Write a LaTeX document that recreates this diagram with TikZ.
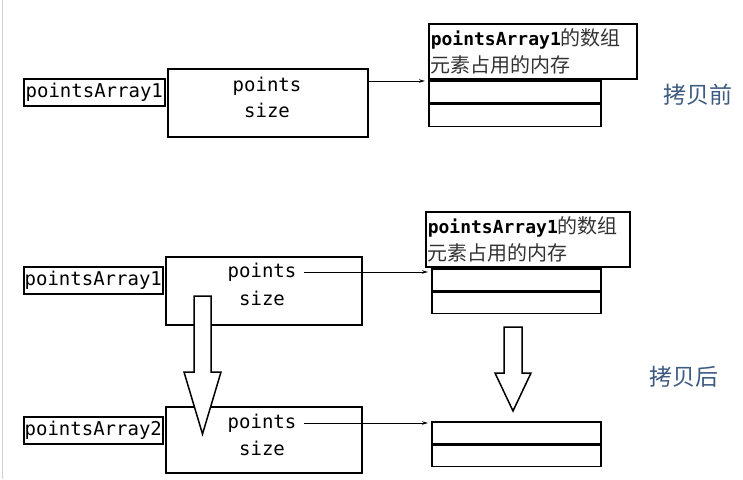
\documentclass[tikz,border=0pt]{standalone}
\usepackage{fontspec}
\usepackage{tikz}
\usetikzlibrary{arrows.meta}
\usetikzlibrary{positioning}
\setmonofont{DejaVu Sans Mono}
\newfontfamily\cjk{Noto Sans CJK SC}
\definecolor{notecolor}{HTML}{3D5A80}
\definecolor{cjkgray}{HTML}{333333}
\tikzset{
	namebox/.style={draw,line width=1.6pt,anchor=north west,inner sep=0pt,
		minimum height=27pt,font=\ttfamily\fontsize{19}{20}\selectfont},
	structbox/.style={draw,line width=1.6pt,anchor=north west,minimum width=196pt},
	fieldtext/.style={inner sep=1pt,font=\ttfamily\fontsize{19}{20}\selectfont},
	capbox/.style={draw,line width=1.6pt,anchor=north west,inner sep=2pt,
		minimum height=55pt,align=left,font=\fontsize{20}{27}\selectfont},
	arraybox/.style={draw,line width=1.6pt,anchor=north west,minimum width=170pt},
	ptr/.style={line width=1pt,-{Stealth[length=6pt,width=3.5pt]},shorten >=3pt},
	note/.style={text=notecolor,font=\cjk\fontsize{23}{23}\selectfont}
}
\begin{document}
\begin{tikzpicture}[x=1pt,y=-1pt]
		\useasboundingbox (0,0) rectangle (743,479);
		\draw[gray!35,line width=1pt] (2,0) -- (2,479);
		% before copy
		\node[namebox,minimum width=141pt] (v1) at (23,78) {pointsArray1};
		\node[structbox,minimum width=200pt,minimum height=68pt] (s1) at (167,68) {};
		\node[fieldtext] (p1) at (267,86) {points};
		\node[fieldtext] (z1) at (267,110) {size};
		\node[capbox,text width=204pt] (c1) at (428,23)
			{\ttfamily\bfseries\fontsize{18}{27}\selectfont pointsArray1\cjk\mdseries\color{cjkgray}\fontsize{20}{27}\selectfont 的数组\\
			 \cjk\color{cjkgray}元素占用的内存};
		\node[arraybox,minimum width=172pt,minimum height=22pt] (a1) at (428,80) {};
		\node[arraybox,minimum width=172pt,minimum height=22pt,anchor=north west] (b1) at (a1.south west) {};
		\draw[ptr] (s1.east |- 0,81) -- (a1.north west |- 0,81);
		\node[note] (n1) at (698,95) {拷贝前};
		% after copy
		\node[namebox,minimum width=139pt] (v2) at (23,266) {pointsArray1};
		\node[structbox,minimum height=68pt] (s2) at (165,256) {};
		\node[fieldtext] (p2) at (262,272) {points};
		\node[fieldtext] (z2) at (262,298) {size};
		\node[capbox,text width=200pt] (c2) at (425,211)
			{\ttfamily\bfseries\fontsize{18}{27}\selectfont pointsArray1\cjk\mdseries\color{cjkgray}\fontsize{20}{27}\selectfont 的数组\\
			 \cjk\color{cjkgray}元素占用的内存};
		\node[arraybox,minimum width=169pt,minimum height=22pt] (a2) at (431,268) {};
		\node[arraybox,minimum width=169pt,minimum height=21pt] (b2) at (a2.south west) {};
		\draw[ptr,shorten <=6pt] (p2.east) -- (p2.east -| a2.west);
		\node[namebox,minimum width=139pt] (v3) at (23,416) {pointsArray2};
		\node[structbox,minimum height=66pt] (s3) at (165,406) {};
		\node[fieldtext] (p3) at (262,423) {points};
		\node[fieldtext] (z3) at (262,448) {size};
		\node[arraybox,minimum width=169pt,minimum height=22pt] (a3) at (431,421) {};
		\node[arraybox,minimum width=169pt,minimum height=21pt] (b3) at (a3.south west) {};
		\draw[ptr,shorten <=6pt] (p3.east) -- (p3.east -| a3.west);
		\node[note] (n2) at (684,377) {拷贝后};
		% copy arrows
		\foreach \cx/\ytop/\ybase/\ytip/\sw/\hw in {202.5/296/372/434/8.5/18.5, 513/327/373/411/9/18}
		{
			\draw[line width=1.5pt,fill=white,line join=miter]
				(\cx-\sw,\ytop) -- (\cx+\sw,\ytop) -- (\cx+\sw,\ybase) -- (\cx+\hw,\ybase)
				-- (\cx,\ytip) -- (\cx-\hw,\ybase) -- (\cx-\sw,\ybase) -- cycle;
		}
\end{tikzpicture}
\end{document}
